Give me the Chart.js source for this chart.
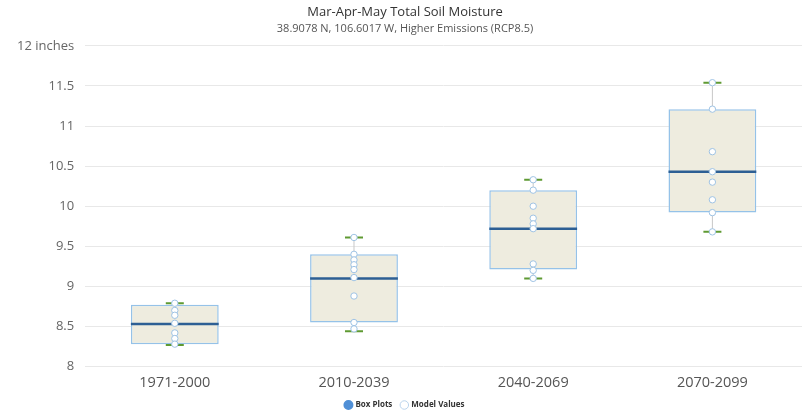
<!DOCTYPE html>
<html>
<head>
<meta charset="utf-8">
<script src="https://cdn.jsdelivr.net/npm/chart.js@4.4.1/dist/chart.umd.min.js"></script>
<style>
    body { margin: 0; background: #fff; }
</style>
</head>
<body>
<canvas id="caja" width="802" height="410"></canvas>
<script>
// valores (pulgadas)
const categories = ["1971-2000", "2010-2039", "2040-2069", "2070-2099"];
const boxLow = [8.28, 8.55, 9.21, 9.92];
const boxHigh = [8.77, 9.40, 10.20, 11.21];
const medians = [8.53, 9.10, 9.72, 10.43];
const whiskerLow = [8.27, 8.44, 9.10, 9.68];
const whiskerHigh = [8.79, 9.61, 10.33, 11.54];
const modelValues = [
    [8.79, 8.70, 8.64, 8.54, 8.42, 8.35, 8.28],
    [9.61, 9.40, 9.33, 9.27, 9.21, 9.11, 8.88, 8.55, 8.47],
    [10.33, 10.20, 10.00, 9.85, 9.78, 9.72, 9.28, 9.20, 9.10],
    [11.54, 11.21, 10.68, 10.43, 10.30, 10.08, 9.92, 9.68],
];
const yTicks = [8, 8.5, 9, 9.5, 10, 10.5, 11, 11.5, 12];

const fuente = "'Open Sans', 'Noto Sans', sans-serif";

const modelPoints = [];
modelValues.forEach(function (vals, i) {
    vals.forEach(function (v) {
        modelPoints.push({ x: categories[i], y: v });
    });
});

// mediana, bigotes y tapas dibujados con las escalas del grafico
const boxPlotParts = {
    id: "boxPlotParts",
    afterDatasetDraw(chart, args) {
        if (args.index !== 0) return;
        const ctx = chart.ctx;
        const y = chart.scales.y;
        const meta = chart.getDatasetMeta(0);
        meta.data.forEach(function (bar, i) {
            const x = bar.x;
            const half = bar.width / 2;
            ctx.save();
            // stems
            ctx.strokeStyle = "#c8c8c8";
            ctx.lineWidth = 1;
            ctx.beginPath();
            ctx.moveTo(x, y.getPixelForValue(boxHigh[i]));
            ctx.lineTo(x, y.getPixelForValue(whiskerHigh[i]));
            ctx.moveTo(x, y.getPixelForValue(boxLow[i]));
            ctx.lineTo(x, y.getPixelForValue(whiskerLow[i]));
            ctx.stroke();
            // caps
            ctx.strokeStyle = "#5f9a32";
            ctx.lineWidth = 2;
            ctx.beginPath();
            [whiskerHigh[i], whiskerLow[i]].forEach(function (w) {
                const py = y.getPixelForValue(w);
                ctx.moveTo(x - 9, py);
                ctx.lineTo(x + 9, py);
            });
            ctx.stroke();
            // median
            ctx.strokeStyle = "#2d5f94";
            ctx.lineWidth = 2.5;
            ctx.beginPath();
            const pm = y.getPixelForValue(medians[i]);
            ctx.moveTo(x - half, pm);
            ctx.lineTo(x + half, pm);
            ctx.stroke();
            ctx.restore();
        });
    },
};

new Chart(document.getElementById("caja"), {
    type: "bar",
    data: {
        labels: categories,
        datasets: [
            {
                label: "Box Plots",
                data: boxLow.map(function (v, i) { return [v, boxHigh[i]]; }),
                backgroundColor: "#eeecdf",
                borderColor: "#95c2e8",
                borderWidth: 1.5,
                borderSkipped: false,
                barPercentage: 0.49,
                categoryPercentage: 1,
                order: 2,
            },
            {
                type: "line",
                label: "Model Values",
                data: modelPoints,
                showLine: false,
                pointStyle: "circle",
                pointRadius: 3.2,
                pointBackgroundColor: "#ffffff",
                pointBorderColor: "#9fc3e4",
                pointBorderWidth: 1,
                backgroundColor: "#ffffff",
                borderColor: "#b9d3ec",
                order: 1,
            },
        ],
    },
    options: {
        responsive: false,
        animation: false,
        layout: { autoPadding: false, padding: { left: 6, right: -2, top: 2, bottom: -9 } },
        scales: {
            x: {
                grid: { display: false },
                border: { display: false },
                ticks: {
                    font: { family: fuente, size: 14.5 },
                    color: "#555",
                    padding: 0,
                },
            },
            y: {
                min: 8,
                max: 12,
                afterBuildTicks: function (axis) {
                    axis.ticks = yTicks.map(function (v) { return { value: v }; });
                },
                grid: { color: "#e8e8e8", drawTicks: false },
                border: { display: false },
                ticks: {
                    font: { family: fuente, size: 13 },
                    color: "#666",
                    padding: 11,
                    callback: function (value) {
                        return value === 12 ? "12 inches" : value;
                    },
                },
            },
        },
        plugins: {
            title: {
                display: true,
                text: "Mar-Apr-May Total Soil Moisture",
                font: { family: fuente, size: 13, weight: "normal" },
                color: "#333",
                padding: { top: 2, bottom: 3 },
            },
            subtitle: {
                display: true,
                text: "38.9078 N, 106.6017 W, Higher Emissions (RCP8.5)",
                font: { family: fuente, size: 11 },
                color: "#555",
                padding: { bottom: 10 },
            },
            legend: {
                position: "bottom",
                labels: {
                    usePointStyle: true,
                    boxWidth: 6,
                    boxHeight: 6,
                    padding: 9,
                    font: { family: fuente, size: 8, weight: "bold" },
                    color: "#333",
                    generateLabels: function (chart) {
                        const items = Chart.defaults.plugins.legend.labels.generateLabels(chart);
                        items.sort(function (a, b) { return a.datasetIndex - b.datasetIndex; });
                        items[0].fillStyle = "#4f8fd6";
                        items[0].strokeStyle = "#4f8fd6";
                        items[0].pointStyle = "circle";
                        items[1].fillStyle = "#ffffff";
                        items[1].strokeStyle = "#b9d3ec";
                        return items;
                    },
                },
            },
            tooltip: { enabled: false },
        },
    },
    plugins: [boxPlotParts],
});
</script>
</body>
</html>
